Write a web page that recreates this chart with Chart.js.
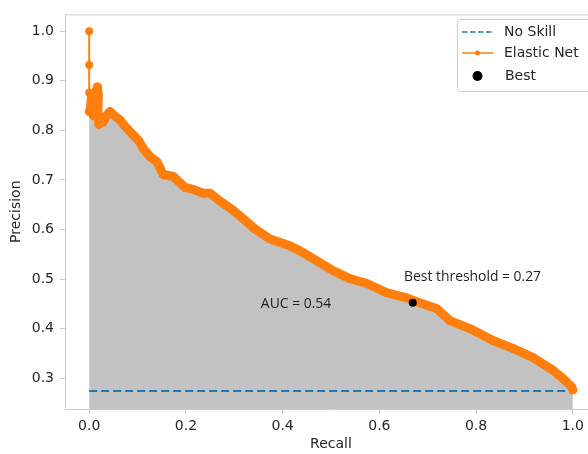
<!DOCTYPE html>
<html>
<head>
<meta charset="utf-8">
<script src="https://cdn.jsdelivr.net/npm/chart.js@4.4.1/dist/chart.umd.min.js"></script>
<style>
  html, body { margin: 0; padding: 0; overflow: hidden; background: #fff; }
  canvas { display: block; }
</style>
</head>
<body>
<canvas id="pr" width="610" height="454"></canvas>
<script>
// Courbe précision-rappel
const recall = [0, 0, 0, 0, 0.002, 0.005, 0.008, 0.011, 0.014, 0.017, 0.019, 0.018, 0.020, 0.024, 0.029, 0.036, 0.043,
  0.052, 0.064, 0.071, 0.079, 0.091, 0.102, 0.112, 0.126, 0.140, 0.153, 0.174, 0.198, 0.215, 0.236, 0.250, 0.271,
  0.295, 0.312, 0.343, 0.374, 0.415, 0.436, 0.477, 0.504, 0.539, 0.574, 0.616, 0.657, 0.684, 0.719, 0.746, 0.787,
  0.835, 0.876, 0.917, 0.959, 0.979, 0.998, 1.0];
const precision = [1.0, 0.932, 0.876, 0.838, 0.84, 0.87, 0.83, 0.86, 0.878, 0.888, 0.87, 0.84, 0.812, 0.82, 0.817, 0.83, 0.838,
  0.83, 0.821, 0.812, 0.803, 0.791, 0.78, 0.763, 0.747, 0.737, 0.711, 0.707, 0.685, 0.681, 0.673, 0.673, 0.657,
  0.641, 0.627, 0.601, 0.581, 0.567, 0.557, 0.533, 0.517, 0.501, 0.491, 0.472, 0.462, 0.452, 0.440, 0.416, 0.400,
  0.376, 0.360, 0.342, 0.316, 0.300, 0.282, 0.276];

// Ligne "No Skill" (prévalence)
const noSkillX = [0, 1];
const noSkillY = [0.274, 0.274];

// Meilleur seuil
const bestRecall = [0.669];
const bestPrecision = [0.452];

const xTicks = [0.0, 0.2, 0.4, 0.6, 0.8, 1.0];
const yTicks = [0.3, 0.4, 0.5, 0.6, 0.7, 0.8, 0.9, 1.0];

const legendLabels = ['No Skill', 'Elastic Net', 'Best'];
const bestText = 'Best threshold = 0.27';
const aucText = 'AUC = 0.54';

const toPoints = (xs, ys) => xs.map((x, i) => ({ x: x, y: ys[i] }));

// Textes, cadre du haut et légende
const extras = {
  id: 'extras',
  afterDraw(chart) {
    const { ctx, chartArea, scales } = chart;
    const sx = scales.x, sy = scales.y;
    ctx.save();
    // cadre du haut
    ctx.strokeStyle = '#cccccc';
    ctx.lineWidth = 1;
    ctx.beginPath();
    ctx.moveTo(chartArea.left, chartArea.top + 0.5);
    ctx.lineTo(chartArea.right, chartArea.top + 0.5);
    ctx.stroke();

    // annotations
    ctx.fillStyle = '#222';
    ctx.font = '13.9px "Open Sans"';
    ctx.textBaseline = 'middle';
    ctx.textAlign = 'left';
    ctx.fillText(bestText, sx.getPixelForValue(0.651), sy.getPixelForValue(0.505));
    ctx.fillText(aucText, sx.getPixelForValue(0.355), sy.getPixelForValue(0.450));

    // légende
    const lx = 457, ly = 19, lw = 160, lh = 72;
    ctx.fillStyle = 'rgba(255,255,255,0.85)';
    ctx.strokeStyle = '#cccccc';
    ctx.beginPath();
    ctx.roundRect(lx + 0.5, ly + 0.5, lw, lh, 3);
    ctx.fill();
    ctx.stroke();

    ctx.lineWidth = 1.5;
    ctx.strokeStyle = '#1f77b4';
    ctx.setLineDash([5.5, 2.5]);
    ctx.beginPath();
    ctx.moveTo(462, 32);
    ctx.lineTo(493, 32);
    ctx.stroke();
    ctx.setLineDash([]);

    ctx.strokeStyle = '#ff7f0e';
    ctx.beginPath();
    ctx.moveTo(462, 53);
    ctx.lineTo(493, 53);
    ctx.stroke();
    ctx.fillStyle = '#ff7f0e';
    ctx.beginPath();
    ctx.arc(477.5, 53, 2.5, 0, Math.PI * 2);
    ctx.fill();

    ctx.fillStyle = '#000';
    ctx.beginPath();
    ctx.arc(477.5, 76, 5, 0, Math.PI * 2);
    ctx.fill();

    ctx.fillStyle = '#262626';
    ctx.font = '14px "DejaVu Sans"';
    ctx.fillText(legendLabels[0], 504, 32);
    ctx.fillText(legendLabels[1], 504, 53);
    ctx.fillText(legendLabels[2], 505, 76);
    ctx.restore();
  }
};

const ctx = document.getElementById('pr').getContext('2d');
new Chart(ctx, {
  type: 'line',
  data: {
    datasets: [
      {
        label: legendLabels[0],
        data: toPoints(noSkillX, noSkillY),
        borderColor: '#1f77b4',
        borderWidth: 2,
        borderDash: [8, 4],
        pointRadius: 0,
        fill: false,
        order: 3
      },
      {
        label: legendLabels[1],
        data: toPoints(recall, precision),
        borderColor: '#ff7f0e',
        backgroundColor: '#c2c2c2',
        borderWidth: 9,
        borderCapStyle: 'round',
        borderJoinStyle: 'round',
        pointRadius: 4,
        pointBackgroundColor: '#ff7f0e',
        pointBorderWidth: 0,
        fill: 'start',
        tension: 0,
        segment: {
          borderWidth: c => (c.p0.parsed.x === 0 && c.p1.parsed.x === 0) ? 2 : 9
        },
        order: 2
      },
      {
        label: legendLabels[2],
        type: 'scatter',
        data: toPoints(bestRecall, bestPrecision),
        backgroundColor: '#000',
        borderWidth: 0,
        pointRadius: 4,
        order: 1
      }
    ]
  },
  options: {
    responsive: false,
    animation: false,
    layout: { padding: { left: 0, top: 12, right: 13, bottom: 0 } },
    plugins: {
      legend: { display: false },
      tooltip: { enabled: false },
      filler: { drawTime: 'beforeDatasetsDraw' }
    },
    scales: {
      x: {
        type: 'linear',
        min: -0.05,
        max: 1.05,
        afterBuildTicks: s => { s.ticks = xTicks.map(v => ({ value: v })); },
        afterFit: s => { s.height = 45; },
        grid: { drawOnChartArea: false, tickLength: 5, color: '#cccccc', tickColor: '#cccccc' },
        border: { display: true, color: '#cccccc' },
        ticks: { color: '#262626', font: { family: 'DejaVu Sans', size: 14 }, padding: 4, maxRotation: 0,
                 callback: v => v.toFixed(1) },
        title: { display: true, text: 'Recall', color: '#262626', font: { family: 'DejaVu Sans', size: 14 },
                 padding: { top: 0, bottom: 1.6 } }
      },
      y: {
        type: 'linear',
        min: 0.2378,
        max: 1.034,
        afterBuildTicks: s => { s.ticks = yTicks.map(v => ({ value: v })); },
        afterFit: s => { s.width = 65; },
        grid: { drawOnChartArea: false, tickLength: 5, color: '#cccccc', tickColor: '#cccccc' },
        border: { display: true, color: '#cccccc' },
        ticks: { color: '#262626', font: { family: 'DejaVu Sans', size: 14 }, padding: 6,
                 callback: v => v.toFixed(1) },
        title: { display: true, text: 'Precision', color: '#262626', font: { family: 'DejaVu Sans', size: 14 },
                 padding: { top: 7.6, bottom: 0 } }
      }
    }
  },
  plugins: [extras]
});
</script>
</body>
</html>
